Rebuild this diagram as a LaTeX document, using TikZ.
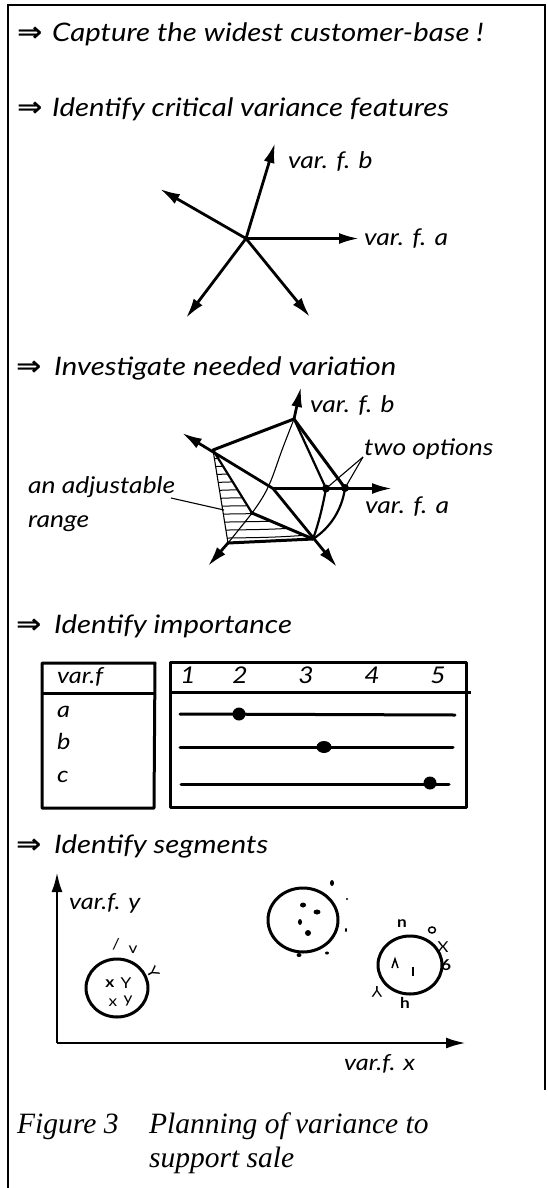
\documentclass[tikz,border=0pt]{standalone}
\usepackage{fontspec}
\usetikzlibrary{arrows.meta}
\newfontfamily\hand{Lato}[FakeStretch=1.15]
\newfontfamily\capfont{Liberation Serif}
\newfontfamily\arrfont{DejaVu Sans}[FakeStretch=1.12]
\begin{document}
\begin{tikzpicture}[x=1pt,y=-1pt,
  head/.style={anchor=base west,inner sep=0pt,font=\hand\itshape\fontsize{25.5}{30}\selectfont},
  harr/.style={anchor=base west,inner sep=0pt,font=\arrfont\bfseries\fontsize{27}{27}\selectfont},
  lab/.style={anchor=base west,inner sep=0pt,font=\hand\itshape\fontsize{23}{26}\selectfont},
  lab3/.style={anchor=base west,inner sep=0pt,font=\hand\itshape\fontsize{22}{26}\selectfont},
  num/.style={anchor=base,inner sep=0pt,font=\hand\itshape\fontsize{23}{26}\selectfont},
  captxt/.style={anchor=base west,inner sep=0pt,font=\capfont\itshape\fontsize{29.5}{32}\selectfont},
  smark/.style={inner sep=0pt,font=\hand\fontsize{15}{15}\selectfont},
  axisarr/.style={line width=2.8pt,-{Latex[length=20pt,width=11pt]}},
  thickline/.style={line width=3pt,line cap=round,line join=round},
  medline/.style={line width=2.2pt,line cap=round},
  thinline/.style={line width=1.1pt},
  framel/.style={line width=2pt},
  boxl/.style={line width=3pt,line join=round}]
\useasboundingbox (0,0) rectangle (547,1188);
% frame
\draw[framel] (8,1188) -- (8,5) -- (545,5) -- (545,1090);

% headings
\node[harr] (ar1) at (17,42) {⇒};
\node[head] (h1) at (52,42) {Capture the widest customer-base !};
\node[harr] (ar2) at (17,117) {⇒};
\node[head] (h2) at (52,117) {Identify critical variance features};
\node[harr] (ar3) at (16,375) {⇒};
\node[head] (h3) at (54,375) {Investigate needed variation};
\node[harr] (ar4) at (16,633) {⇒};
\node[head] (h4) at (54,633) {Identify importance};
\node[harr] (ar5) at (16,853) {⇒};
\node[head] (h5) at (54,853) {Identify segments};

% star 1
\coordinate (c1) at (246,238.5);
\coordinate (b1) at (275,143);
\coordinate (ul1) at (160,189);
\coordinate (a1) at (359,238.5);
\coordinate (dl1) at (186,318);
\coordinate (dr1) at (310,317);
\foreach \t in {b1,ul1,a1,dl1,dr1} \draw[axisarr] (c1) -- (\t);
\node[lab] (lb1) at (288,168) {var. f. b};
\node[lab] (la1) at (364,245) {var. f. a};

% pentagon
\coordinate (C) at (273,488.5);
\coordinate (B) at (294,419);
\coordinate (Bt) at (301,387);
\coordinate (UL) at (213,450);
\coordinate (ULt) at (182,433);
\coordinate (LL) at (228,543);
\coordinate (LLt) at (208,566);
\coordinate (LR) at (313,539);
\coordinate (LRt) at (337,567);
\coordinate (P1) at (326,488.5);
\coordinate (P2) at (345,488);
\coordinate (At) at (392,488.5);
\coordinate (Q) at (252,513);
% hatching
\begin{scope}
\clip (UL) -- (LL) -- (LR) -- (Q) -- cycle;
\foreach \yy in {458,466,...,546}
  \draw[line width=1pt] (205,\yy+2) .. controls (225,\yy-2) and (255,\yy+2) .. (320,\yy-4);
\end{scope}
\draw[thinline] (UL) -- (LL);
\draw[thinline] plot[smooth] coordinates {(B) (282,450) (272,478) (264,495) (Q) (LL)};
\draw[axisarr] (C) -- (ULt);
\draw[axisarr] (C) -- (LRt);
\draw[axisarr] (C) -- (At);
\draw[axisarr] (B) -- (Bt);
\draw[axisarr] (LL) -- (LLt);
\draw[thickline] (UL) -- (B);
\draw[medline] (B) -- (P1);
\draw[thickline] (B) -- (P2);
\draw[medline] (P1) .. controls (322,510) and (318,525) .. (LR);
\draw[medline] (P2) .. controls (342,510) and (330,528) .. (LR);
\draw[thickline] (LL) -- (LR);
\draw[medline] (UL) -- (Q);
\draw[thickline] (Q) -- (LR);
\fill (P1) circle (4);
\fill (P2) circle (4);
\fill (Q) circle (2.2);
\node[lab] (two) at (364,455) {two options};
\coordinate (tw) at (363,457);
\draw[thinline] (tw) -- (P1);
\draw[thinline] (tw) -- (P2);
\node[lab] (lb2) at (310,412) {var. f. b};
\node[lab] (la2) at (365,513) {var. f. a};
\node[lab] (adj) at (28,493) {an adjustable};
\node[lab] (rng) at (28,527) {range};
\coordinate (adjend) at (224,510);
\draw[thinline] (171,498) -- (adjend);

% table
\draw[boxl] (42,663) -- (155,663) -- (154,808) -- (42,808) -- cycle;
\draw[boxl] (42,693) -- (155,693);
\draw[boxl] (170,662) -- (466,662) -- (466,807) -- (170,807) -- cycle;
\draw[boxl] (170,692) -- (471,692);
\node[lab3] (vf) at (57,683) {var.f};
\node[lab3] (ra) at (57,717) {a};
\node[lab3] (rb) at (57,749) {b};
\node[lab3] (rc) at (57,782) {c};
\node[num] (n1) at (188,683) {1};
\node[num] (n2) at (240,683) {2};
\node[num] (n3) at (306,683) {3};
\node[num] (n4) at (372,683) {4};
\node[num] (n5) at (438,683) {5};
\draw[thickline] (180,714) -- (455,715);
\draw[thickline] (180,747) -- (453,747);
\draw[thickline] (181,784) -- (449,784);
\fill (239,714) ellipse (6.5 and 6.5);
\fill (324,747) ellipse (7.5 and 6);
\fill (430,783) ellipse (6.5 and 6.5);

% segments
\coordinate (O) at (57,1043);
\draw[axisarr] (O) -- (57,872);
\draw[axisarr] (O) -- (466,1043);
\node[lab3] (vy) at (69,909) {var.f. y};
\node[lab3] (vx) at (344,1070) {var.f. x};
\draw[thickline] (117,988) ellipse (31 and 29);
\draw[thickline] (303,920) ellipse (35 and 32);
\draw[thickline] (410,965) ellipse (32 and 29);
% circle 1 marks
\node[smark] (m1) at (110,984) {\textbf{x}};
\node[smark] (m2) at (126,983) {Y};
\node[smark] (m3) at (113,1003) {x};
\node[smark] (m4) at (128,1001) {y};
\node[smark] (m5) at (116,944) {/};
\node[smark] (m6) at (133,950) {v};
\node[smark,rotate=-60] (m7) at (153,972) {Y};
% circle 2 dots
\fill (303,905) ellipse (3 and 2.5);
\fill (317,912) ellipse (3.5 and 2.5);
\fill (300,922) ellipse (2 and 3);
\fill (308,933) ellipse (3 and 3);
\fill (332,883) ellipse (2 and 3);
\fill (347,899) ellipse (1.2 and 1.2);
\fill (346,930) ellipse (1 and 2);
\fill (299,955) ellipse (2.5 and 2);
\fill (327,953) ellipse (2 and 1.5);
% circle 3 marks
\draw[line width=1.5pt] (392,968) -- (395,959) -- (398,968);
\draw[line width=2pt] (413,967) -- (413,976);
\node[smark] (k1) at (402,924) {\textbf{n}};
\draw[line width=1.5pt] (432,930) ellipse (3.5 and 3);
\node[smark] (k3) at (443,947) {X};
\node[smark] (k4) at (446,965) {\textbf{6}};
\node[smark,rotate=180] (k5) at (377,992) {Y};
\node[smark] (k6) at (405,1003) {\textbf{h}};

% caption
\node[captxt] (f3) at (17,1133) {Figure 3};
\node[captxt] (f3a) at (149,1133) {Planning of variance to};
\node[captxt] (f3b) at (149,1167) {support sale};
\end{tikzpicture}
\end{document}
